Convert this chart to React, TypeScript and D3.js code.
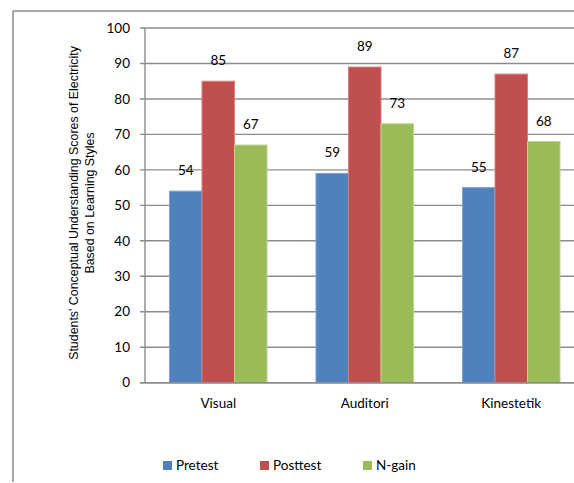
import React from "react";
import * as d3 from "d3";

// Chart data
const categories = ["Visual", "Auditori", "Kinestetik"];
const seriesNames = ["Pretest", "Posttest", "N-gain"];
const pretest = [54, 59, 55];
const posttest = [85, 89, 87];
const ngain = [67, 73, 68];
const yTicks = [0, 10, 20, 30, 40, 50, 60, 70, 80, 90, 100];
const yTitleLines = [
  "Students' Conceptual Understanding Scores of Electricity",
  "Based on Learning Styles",
];

const colors = ["#4F81BD", "#C0504D", "#9BBB59"];
const edgeColors = ["#7FA3D3", "#D8817F", "#BCD48D"];

const W = 574;
const H = 483;
const plot = { left: 145, top: 28, right: 584.5, bottom: 382.7 };
const labelFont = "Lato, 'Open Sans', sans-serif";

export default function App() {
  const series = [pretest, posttest, ngain];

  const x0 = d3
    .scaleBand<string>()
    .domain(categories)
    .range([plot.left, plot.right])
    .paddingInner(0.334)
    .paddingOuter(0.167);
  const x1 = d3
    .scaleBand<string>()
    .domain(seriesNames)
    .range([0, x0.bandwidth()]);
  const y = d3.scaleLinear().domain([0, 100]).range([plot.bottom, plot.top]);

  const gridColor = "#8C8C8C";

  return (
    <svg
      width={W}
      height={H}
      style={{ position: "absolute", left: 0, top: 0, background: "#fff" }}
    >
      {/* outer frame (left and top edges visible) */}
      <line x1={13} y1={11} x2={W} y2={11} stroke="#8A8A8A" strokeWidth={1.5} />
      <line x1={13} y1={11} x2={13} y2={482} stroke="#8A8A8A" strokeWidth={1.5} />

      {/* gridlines and y ticks */}
      {yTicks.map((t) => (
        <g key={t}>
          <line
            x1={plot.left - 5}
            x2={W}
            y1={y(t)}
            y2={y(t)}
            stroke={gridColor}
            strokeWidth={1.4}
          />
          <text
            x={130}
            y={y(t)}
            dy="0.35em"
            textAnchor="end"
            fontFamily={labelFont}
            fontSize={13.5}
            fill="#000"
          >
            {t}
          </text>
        </g>
      ))}
      {/* y axis line */}
      <line
        x1={plot.left}
        x2={plot.left}
        y1={plot.top}
        y2={plot.bottom}
        stroke={gridColor}
        strokeWidth={1.4}
      />

      {/* bars */}
      {categories.map((c, ci) => (
        <g key={c} transform={`translate(${x0(c)},0)`}>
          {seriesNames.map((s, si) => {
            const v = series[si][ci];
            const bx = x1(s) as number;
            const bw = x1.bandwidth();
            return (
              <g key={s}>
                <rect
                  x={bx}
                  y={y(v)}
                  width={bw}
                  height={plot.bottom - y(v)}
                  fill={colors[si]}
                  stroke={edgeColors[si]}
                  strokeWidth={1}
                />
                <text
                  x={bx + bw / 2}
                  y={y(v) - 16}
                  textAnchor="middle"
                  fontFamily={labelFont}
                  fontSize={13.5}
                  fill="#000"
                >
                  {v}
                </text>
              </g>
            );
          })}
        </g>
      ))}

      {/* x axis */}
      <line
        x1={plot.left - 5}
        x2={W}
        y1={plot.bottom}
        y2={plot.bottom}
        stroke={gridColor}
        strokeWidth={1.6}
      />
      {categories.map((c) => (
        <text
          key={c}
          x={(x0(c) as number) + x0.bandwidth() / 2}
          y={408}
          textAnchor="middle"
          fontFamily={labelFont}
          fontSize={13.5}
          fill="#000"
        >
          {c}
        </text>
      ))}

      {/* y axis title */}
      {yTitleLines.map((line, i) => (
        <text
          key={i}
          transform={`translate(${77.5 + i * 16},${203}) rotate(-90)`}
          textAnchor="middle"
          fontFamily="'Liberation Sans', Arial, sans-serif"
          fontSize={12.4}
          fill="#000"
        >
          {line}
        </text>
      ))}

      {/* legend */}
      {seriesNames.map((s, i) => {
        const lx = [163, 260, 363][i];
        return (
          <g key={s}>
            <rect x={lx} y={461} width={9} height={9} fill={colors[i]} />
            <text
              x={lx + 13}
              y={465.5}
              dy="0.35em"
              fontFamily={labelFont}
              fontSize={13.5}
              fill="#000"
            >
              {s}
            </text>
          </g>
        );
      })}
    </svg>
  );
}
